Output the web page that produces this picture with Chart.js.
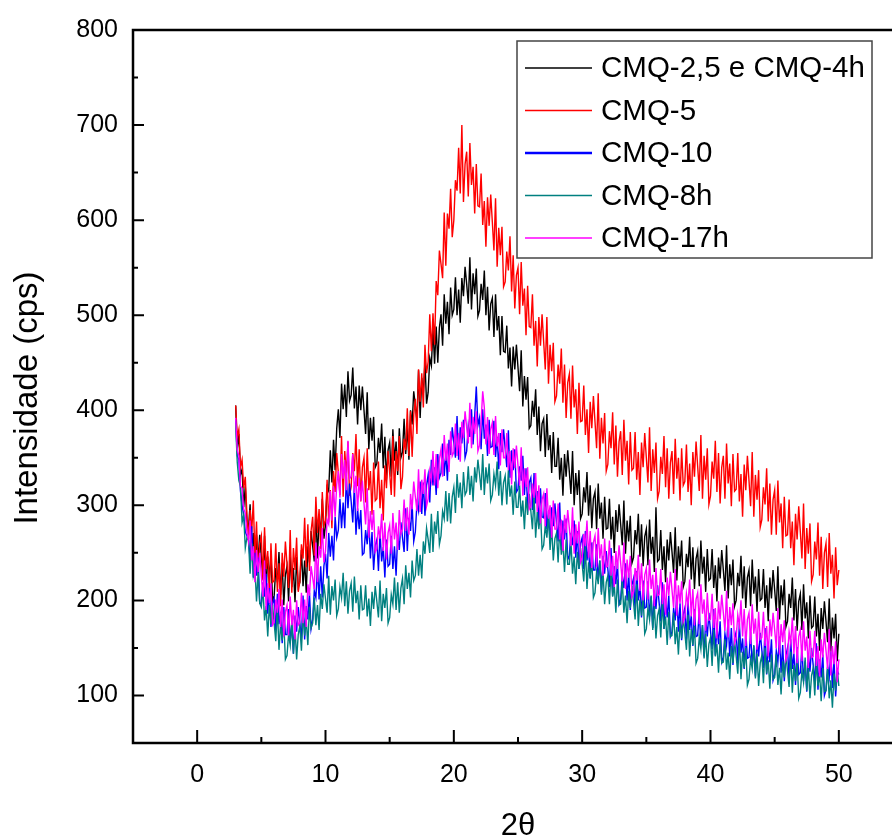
<!DOCTYPE html>
<html>
<head>
<meta charset="utf-8">
<title>DRX - CMQ</title>
<script src="https://cdn.jsdelivr.net/npm/chart.js@4.4.0/dist/chart.umd.min.js"></script>
<style>
  html, body { margin: 0; padding: 0; background: #fff; overflow: hidden; }
  #wrap { width: 905px; height: 839px; }
</style>
</head>
<body>
<div id="wrap"><canvas id="xrd" width="905" height="839"></canvas></div>
<script>
// scan: 2theta from 3 to 50, step 0.125 (one row = one degree, 8 readings)
const thetaStart = 3;
const thetaStep = 0.125;

const xTicks = [0, 10, 20, 30, 40, 50];
const xMinor = [5, 15, 25, 35, 45];
const yTicks = [100, 200, 300, 400, 500, 600, 700, 800];
const yMinor = [150, 250, 350, 450, 550, 650, 750];

const seriesNames = ['CMQ-2,5 e CMQ-4h', 'CMQ-5', 'CMQ-10', 'CMQ-8h', 'CMQ-17h'];
const seriesColors = ['#000000', '#ff0000', '#0000ff', '#008080', '#ff00ff'];

const cmq25 = [
  405, 360, 375, 332, 338, 298, 320, 283,
  276, 301, 252, 271, 228, 269, 243, 269,
  245, 222, 268, 211, 246, 223, 249, 199,
  205, 234, 219, 251, 206, 239, 195, 227,
  236, 199, 249, 214, 234, 198, 246, 214,
  219, 253, 215, 242, 208, 257, 240, 273,
  257, 241, 294, 244, 286, 272, 307, 265,
  279, 319, 315, 358, 324, 369, 337, 381,
  401, 371, 428, 401, 427, 393, 441, 410,
  416, 445, 402, 425, 385, 426, 400, 425,
  400, 375, 419, 359, 392, 368, 393, 340,
  344, 371, 355, 386, 339, 372, 327, 358,
  366, 330, 380, 347, 367, 332, 381, 350,
  356, 391, 354, 382, 348, 400, 385, 420,
  405, 389, 442, 392, 434, 418, 451, 407,
  419, 455, 447, 486, 449, 488, 450, 487,
  501, 468, 522, 491, 514, 480, 529, 500,
  506, 540, 500, 527, 492, 539, 520, 551,
  533, 512, 561, 506, 544, 522, 549, 499,
  505, 533, 516, 547, 500, 530, 484, 512,
  518, 477, 522, 484, 499, 458, 499, 462,
  461, 489, 444, 466, 425, 467, 443, 469,
  445, 420, 463, 404, 436, 411, 435, 381,
  384, 410, 393, 422, 374, 404, 357, 386,
  391, 351, 396, 358, 374, 334, 377, 341,
  341, 371, 327, 350, 310, 354, 330, 358,
  335, 312, 357, 300, 334, 311, 337, 286,
  291, 319, 303, 335, 289, 321, 276, 307,
  314, 275, 323, 286, 303, 265, 309, 275,
  276, 307, 264, 288, 250, 295, 272, 301,
  280, 258, 305, 249, 284, 262, 289, 239,
  245, 274, 259, 291, 246, 280, 236, 267,
  275, 237, 285, 249, 267, 230, 298, 241,
  243, 274, 232, 257, 219, 264, 242, 272,
  251, 229, 277, 221, 257, 236, 263, 214,
  220, 249, 235, 267, 222, 256, 212, 244,
  252, 215, 263, 228, 246, 209, 254, 221,
  223, 254, 213, 237, 199, 245, 223, 253,
  232, 210, 258, 202, 238, 216, 243, 194,
  200, 229, 215, 247, 202, 236, 192, 224,
  232, 194, 243, 207, 225, 188, 233, 200,
  202, 233, 192, 216, 178, 224, 202, 232,
  211, 189, 236, 180, 216, 195, 222, 172,
  178, 207, 192, 224, 179, 212, 168, 199,
  207, 169, 217, 181, 198, 160, 205, 171,
  173, 204, 162, 186, 147, 192, 170, 199,
  178, 156, 202, 146, 182, 160, 186, 136,
  165
];

const cmq5 = [
  405, 372, 380, 340, 348, 318, 330, 290,
  265, 295, 272, 305, 245, 283, 226, 260,
  268, 221, 277, 233, 252, 205, 260, 219,
  221, 260, 209, 239, 194, 250, 225, 262,
  238, 213, 274, 208, 255, 232, 266, 209,
  220, 259, 244, 287, 235, 280, 231, 273,
  288, 247, 309, 271, 296, 254, 314, 278,
  284, 327, 282, 316, 276, 336, 314, 355,
  334, 311, 373, 309, 357, 333, 367, 310,
  320, 355, 336, 375, 320, 359, 304, 340,
  350, 303, 360, 316, 336, 290, 345, 305,
  307, 346, 297, 327, 284, 342, 318, 357,
  334, 311, 373, 309, 357, 336, 373, 317,
  330, 370, 358, 402, 352, 399, 351, 395,
  412, 375, 443, 409, 439, 403, 469, 439,
  451, 501, 462, 502, 469, 536, 521, 568,
  554, 539, 608, 552, 607, 591, 633, 582,
  600, 642, 631, 676, 628, 700, 619, 659,
  672, 625, 681, 637, 656, 607, 659, 615,
  614, 649, 595, 620, 572, 624, 594, 627,
  598, 568, 623, 551, 592, 563, 593, 530,
  535, 567, 547, 583, 525, 563, 507, 542,
  550, 501, 556, 510, 528, 479, 531, 488,
  487, 522, 468, 494, 446, 498, 468, 501,
  472, 443, 498, 428, 469, 441, 471, 409,
  415, 448, 428, 465, 408, 448, 392, 429,
  438, 391, 447, 403, 422, 375, 429, 388,
  389, 426, 374, 401, 355, 409, 381, 415,
  388, 360, 418, 349, 392, 365, 397, 336,
  343, 378, 360, 398, 343, 384, 330, 367,
  378, 332, 390, 347, 368, 322, 377, 337,
  339, 377, 327, 356, 311, 366, 340, 376,
  350, 324, 382, 315, 359, 334, 366, 307,
  315, 351, 333, 373, 319, 360, 307, 345,
  357, 312, 370, 328, 350, 305, 360, 321,
  325, 364, 314, 344, 300, 356, 330, 367,
  341, 315, 374, 307, 352, 327, 360, 301,
  310, 346, 328, 368, 314, 355, 302, 340,
  352, 307, 365, 323, 344, 299, 354, 315,
  317, 355, 304, 333, 288, 343, 316, 352,
  326, 299, 356, 288, 332, 306, 337, 277,
  285, 319, 301, 339, 283, 323, 269, 306,
  316, 269, 326, 282, 302, 255, 309, 268,
  269, 306, 255, 283, 237, 291, 264, 299,
  272, 244, 302, 233, 276, 249, 281, 220,
  227, 262, 243, 282, 226, 267, 212, 250,
  260, 214, 271, 228, 248, 202, 256, 216,
  232
];

const cmq10 = [
  390, 352, 348, 315, 300, 290, 272, 268,
  266, 242, 278, 224, 250, 226, 245, 197,
  197, 219, 204, 228, 186, 213, 172, 197,
  202, 168, 207, 175, 188, 155, 193, 164,
  164, 191, 155, 176, 144, 184, 167, 193,
  176, 160, 205, 159, 194, 180, 208, 170,
  180, 210, 203, 235, 201, 236, 203, 236,
  249, 223, 271, 246, 268, 242, 288, 266,
  274, 307, 276, 303, 276, 330, 297, 323,
  304, 282, 321, 269, 297, 275, 295, 248,
  250, 274, 259, 285, 244, 272, 232, 258,
  264, 231, 272, 241, 256, 224, 264, 236,
  238, 268, 233, 257, 226, 269, 253, 282,
  266, 251, 297, 252, 287, 273, 301, 262,
  272, 302, 294, 325, 291, 324, 289, 321,
  332, 303, 348, 321, 340, 311, 354, 329,
  334, 365, 331, 356, 326, 369, 353, 382,
  366, 350, 394, 348, 382, 365, 390, 350,
  357, 384, 372, 401, 364, 394, 425, 384,
  392, 359, 401, 370, 385, 352, 390, 361,
  362, 389, 351, 372, 338, 376, 356, 380,
  360, 340, 379, 329, 358, 337, 359, 314,
  317, 341, 326, 352, 311, 339, 298, 324,
  329, 295, 334, 302, 315, 281, 318, 288,
  287, 313, 275, 294, 260, 298, 278, 302,
  282, 262, 303, 253, 284, 264, 286, 243,
  247, 271, 258, 284, 245, 273, 233, 260,
  266, 233, 273, 242, 256, 223, 261, 232,
  232, 259, 221, 242, 209, 247, 228, 252,
  233, 214, 255, 205, 236, 217, 240, 196,
  201, 226, 213, 239, 200, 229, 190, 216,
  223, 190, 231, 200, 215, 182, 221, 192,
  193, 220, 183, 204, 171, 210, 191, 216,
  197, 178, 219, 170, 201, 182, 205, 162,
  167, 192, 179, 206, 167, 197, 158, 185,
  192, 159, 200, 169, 184, 152, 191, 162,
  163, 190, 153, 174, 141, 181, 162, 187,
  168, 149, 191, 142, 173, 154, 178, 135,
  140, 165, 153, 180, 141, 171, 132, 160,
  167, 134, 176, 145, 160, 128, 167, 139,
  140, 167, 131, 152, 120, 159, 141, 166,
  148, 129, 171, 122, 154, 135, 159, 116,
  122, 147, 135, 162, 124, 153, 115, 142,
  150, 117, 159, 128, 144, 111, 151, 122,
  124, 151, 115, 136, 104, 143, 125, 150,
  132, 113, 155, 106, 138, 119, 143, 100,
  106, 131, 119, 146, 108, 137, 99, 126,
  122
];

const cmq8h = [
  385, 345, 326, 320, 282, 290, 255, 266,
  263, 228, 260, 226, 234, 199, 229, 197,
  193, 214, 179, 194, 162, 195, 175, 195,
  176, 157, 193, 148, 175, 158, 177, 138,
  142, 165, 153, 179, 144, 172, 138, 164,
  173, 147, 187, 163, 179, 153, 193, 171,
  176, 203, 174, 195, 169, 207, 191, 217,
  202, 187, 226, 185, 215, 200, 222, 184,
  191, 214, 203, 229, 194, 220, 186, 210,
  218, 188, 225, 197, 210, 180, 216, 190,
  191, 216, 183, 202, 173, 209, 191, 215,
  199, 182, 221, 178, 207, 192, 213, 176,
  182, 206, 196, 224, 190, 219, 187, 213,
  223, 196, 237, 212, 229, 203, 242, 221,
  226, 254, 226, 248, 223, 262, 249, 276,
  264, 250, 291, 251, 283, 270, 294, 259,
  268, 294, 286, 315, 283, 313, 281, 309,
  319, 292, 333, 308, 324, 297, 335, 311,
  315, 341, 311, 331, 304, 340, 324, 348,
  333, 316, 354, 311, 340, 323, 344, 305,
  311, 333, 321, 346, 310, 336, 300, 324,
  331, 301, 337, 309, 321, 290, 325, 298,
  298, 321, 288, 305, 275, 309, 290, 312,
  294, 275, 311, 266, 293, 275, 294, 254,
  258, 279, 266, 290, 253, 278, 242, 265,
  271, 240, 277, 248, 261, 230, 264, 238,
  238, 262, 228, 246, 217, 251, 233, 255,
  238, 220, 257, 212, 240, 223, 243, 203,
  208, 230, 217, 242, 206, 231, 196, 219,
  226, 196, 233, 204, 217, 187, 222, 195,
  196, 220, 187, 205, 176, 210, 192, 215,
  198, 180, 217, 173, 201, 184, 204, 165,
  170, 192, 180, 205, 169, 195, 160, 184,
  191, 161, 198, 170, 183, 153, 188, 162,
  163, 187, 154, 172, 143, 178, 160, 183,
  166, 148, 185, 141, 170, 153, 173, 134,
  139, 161, 149, 174, 139, 165, 130, 154,
  161, 131, 169, 141, 154, 124, 160, 134,
  135, 159, 127, 145, 117, 152, 134, 158,
  141, 123, 161, 117, 146, 129, 150, 111,
  117, 139, 128, 153, 118, 144, 110, 134,
  142, 113, 150, 123, 137, 107, 143, 117,
  119, 143, 111, 129, 101, 136, 119, 142,
  126, 109, 146, 103, 132, 115, 136, 97,
  103, 126, 114, 140, 105, 131, 97, 121,
  129, 100, 137, 110, 123, 94, 129, 104,
  105, 130, 97, 116, 87, 123, 105, 129,
  110
];

const cmq17h = [
  392, 358, 352, 320, 318, 296, 292, 272,
  262, 284, 242, 257, 219, 253, 230, 250,
  226, 204, 242, 190, 218, 197, 218, 174,
  177, 201, 187, 212, 172, 201, 162, 188,
  195, 163, 204, 174, 190, 159, 200, 174,
  177, 208, 176, 201, 172, 217, 205, 236,
  224, 212, 261, 219, 257, 245, 276, 240,
  252, 285, 280, 315, 284, 320, 288, 322,
  336, 308, 354, 328, 348, 316, 368, 328,
  330, 354, 313, 331, 294, 329, 305, 326,
  302, 280, 318, 266, 294, 274, 295, 251,
  254, 278, 265, 291, 252, 282, 243, 271,
  279, 249, 292, 264, 282, 253, 295, 270,
  275, 306, 273, 298, 269, 312, 296, 325,
  309, 294, 338, 293, 327, 312, 338, 299,
  307, 336, 326, 357, 321, 354, 318, 349,
  359, 330, 374, 347, 365, 335, 378, 352,
  356, 386, 352, 376, 346, 388, 371, 399,
  382, 365, 408, 360, 393, 375, 399, 357,
  363, 388, 420, 403, 364, 393, 354, 380,
  387, 353, 394, 362, 376, 342, 380, 350,
  350, 376, 337, 357, 322, 360, 339, 363,
  342, 321, 361, 310, 339, 319, 340, 296,
  299, 323, 308, 334, 293, 321, 281, 306,
  312, 278, 318, 286, 300, 266, 305, 275,
  275, 302, 264, 285, 252, 290, 271, 295,
  276, 257, 298, 249, 280, 260, 283, 240,
  245, 270, 257, 284, 245, 273, 234, 261,
  268, 235, 276, 244, 259, 226, 265, 235,
  236, 263, 226, 247, 214, 252, 233, 258,
  239, 220, 261, 212, 243, 224, 247, 204,
  209, 234, 221, 248, 210, 239, 200, 227,
  234, 201, 243, 212, 227, 194, 234, 205,
  206, 233, 196, 217, 185, 224, 205, 230,
  211, 192, 233, 184, 216, 197, 220, 177,
  182, 207, 195, 222, 183, 212, 174, 201,
  208, 175, 217, 186, 201, 168, 208, 179,
  180, 207, 171, 192, 160, 199, 180, 206,
  187, 168, 210, 161, 193, 174, 197, 155,
  160, 185, 173, 200, 162, 191, 152, 180,
  187, 154, 196, 165, 181, 148, 188, 159,
  161, 188, 152, 173, 141, 180, 162, 187,
  169, 150, 192, 143, 175, 156, 179, 137,
  142, 167, 155, 182, 144, 173, 134, 162,
  169, 136, 178, 147, 162, 129, 168, 140,
  141, 168, 131, 152, 120, 159, 140, 166,
  147, 128, 170, 121, 152, 133, 157, 114,
  138
];

const seriesValues = [cmq25, cmq5, cmq10, cmq8h, cmq17h];

const FONT = '"Liberation Sans", Arial, sans-serif';

// axes frame, inward ticks, axis titles and the boxed legend (Origin style)
const originFrame = {
    id: 'originFrame',
    afterDraw(chart) {
        const { ctx, chartArea: a, scales: { x, y } } = chart;
        ctx.save();
        ctx.strokeStyle = '#000';
        ctx.lineCap = 'butt';

        ctx.lineWidth = 2.5;
        ctx.beginPath();
        ctx.moveTo(a.left, a.top); ctx.lineTo(a.right, a.top);
        ctx.moveTo(a.left, a.bottom); ctx.lineTo(a.right, a.bottom);
        ctx.moveTo(a.left, a.top - 1.2); ctx.lineTo(a.left, a.bottom + 1.2);
        ctx.moveTo(a.right, a.top); ctx.lineTo(a.right, a.bottom);
        ctx.stroke();

        ctx.lineWidth = 2;
        ctx.beginPath();
        xTicks.forEach(v => { const px = x.getPixelForValue(v); ctx.moveTo(px, a.bottom); ctx.lineTo(px, a.bottom - 13); });
        xMinor.forEach(v => { const px = x.getPixelForValue(v); ctx.moveTo(px, a.bottom); ctx.lineTo(px, a.bottom - 6); });
        yTicks.forEach(v => { const py = y.getPixelForValue(v); ctx.moveTo(a.left, py); ctx.lineTo(a.left + 11, py); });
        yMinor.forEach(v => { const py = y.getPixelForValue(v); ctx.moveTo(a.left, py); ctx.lineTo(a.left + 5, py); });
        ctx.stroke();

        // axis titles
        ctx.fillStyle = '#000';
        ctx.font = `33px ${FONT}`;
        ctx.textAlign = 'center';
        ctx.textBaseline = 'alphabetic';
        ctx.save();
        ctx.translate(37, 398);
        ctx.rotate(-Math.PI / 2);
        ctx.fillText('Intensidade (cps)', 0, 0);
        ctx.restore();
        ctx.font = `31px ${FONT}`;
        ctx.fillText('2\u03b8', 518, 835);

        // legend
        ctx.fillStyle = '#fff';
        ctx.fillRect(517, 41, 355, 217);
        ctx.strokeStyle = '#444';
        ctx.lineWidth = 1.5;
        ctx.strokeRect(517, 41, 355, 217);
        ctx.font = `29.5px ${FONT}`;
        ctx.textAlign = 'left';
        ctx.textBaseline = 'middle';
        seriesNames.forEach((name, i) => {
            const ly = 68 + i * 42.5;
            ctx.strokeStyle = seriesColors[i];
            ctx.lineWidth = i === 2 ? 2.5 : 1.5;
            ctx.beginPath();
            ctx.moveTo(525, ly); ctx.lineTo(592, ly);
            ctx.stroke();
            ctx.fillStyle = '#000';
            ctx.fillText(name, 601, ly + 1);
        });
        ctx.restore();
    }
};

const datasets = seriesValues.map((vals, i) => ({
    label: seriesNames[i],
    data: vals.map((v, k) => ({ x: thetaStart + k * thetaStep, y: v })),
    borderColor: seriesColors[i],
    borderWidth: 1.4,
    pointRadius: 0,
    tension: 0,
    fill: false,
    order: seriesValues.length - i,   // last series drawn on top
}));

new Chart(document.getElementById('xrd'), {
    type: 'line',
    data: { datasets },
    options: {
        responsive: false,
        animation: false,
        devicePixelRatio: 1,
        layout: { padding: { top: 27, right: 2, left: 0, bottom: 0 } },
        plugins: { legend: { display: false }, tooltip: { enabled: false } },
        scales: {
            x: {
                type: 'linear',
                min: -5,
                max: 55,
                afterBuildTicks: s => { s.ticks = xTicks.map(v => ({ value: v })); },
                afterFit: s => { s.height = 96; },
                grid: { display: false, drawTicks: false },
                border: { display: false },
                ticks: { color: '#000', padding: 17, maxRotation: 0, font: { family: FONT, size: 25 } },
            },
            y: {
                type: 'linear',
                min: 50,
                max: 800,
                afterBuildTicks: s => { s.ticks = yTicks.map(v => ({ value: v })); },
                afterFit: s => { s.width = 133; },
                grid: { display: false, drawTicks: false },
                border: { display: false },
                ticks: { color: '#000', padding: 15, font: { family: FONT, size: 25 } },
            },
        },
    },
    plugins: [originFrame],
});
</script>
</body>
</html>
